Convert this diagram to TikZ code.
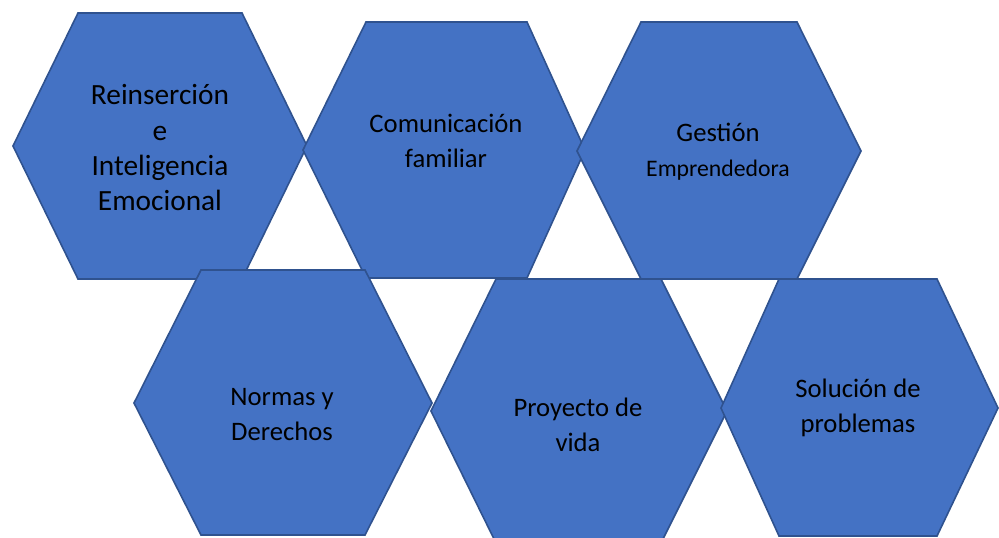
\documentclass[tikz,border=0pt]{standalone}
\usepackage{fontspec}
\setmainfont{Carlito}
\definecolor{hexblue}{HTML}{4472C4}
\definecolor{hexborder}{HTML}{2F528F}

\tikzset{
  hexa/.style={fill=hexblue, draw=hexborder, line width=1.2pt, line join=miter},
  hexlabel/.style={align=center, text=black, font=\fontsize{20}{26.25}\selectfont},
}

\begin{document}
\begin{tikzpicture}[x=0.75pt, y=-0.75pt]

    \clip (0,0) rectangle (999,537);

    % fila de arriba
    \draw[hexa] (13,146) -- (78,13) -- (242,13) -- (307,146) -- (242,279) -- (78,279) -- cycle;
    \draw[hexa] (303,150) -- (366,22) -- (527,22) -- (585,150) -- (527,278) -- (366,278) -- cycle;
    \draw[hexa] (577,151) -- (641,22) -- (797,22) -- (861,151) -- (797,279) -- (641,279) -- cycle;

    % fila de abajo
    \draw[hexa] (134,403) -- (201,270) -- (365,270) -- (432,403) -- (365,535) -- (201,535) -- cycle;
    \draw[hexa] (431,411) -- (496,279) -- (661,279) -- (727,411) -- (661,543) -- (496,543) -- cycle;
    \draw[hexa] (721,408) -- (779,279) -- (937,279) -- (998,408) -- (937,536) -- (779,536) -- cycle;

    \node[hexlabel, font=\fontsize{22}{26.5}\selectfont] (reinsercion) at (160,148) {Reinserción\\e\\Inteligencia\\Emocional};
    \node[hexlabel] (comunicacion) at (446,141) {Comunicación\\familiar};
    \node[hexlabel] (gestion) at (718,152) {Gestión\\{\fontsize{17.8}{22}\selectfont Emprendedora}};

    \node[hexlabel] (normas) at (282,415) {Normas y\\Derechos};
    \node[hexlabel] (proyecto) at (578,425) {Proyecto de\\vida};
    \node[hexlabel] (solucion) at (858,408) {Solución de\\problemas};

\end{tikzpicture}
\end{document}
